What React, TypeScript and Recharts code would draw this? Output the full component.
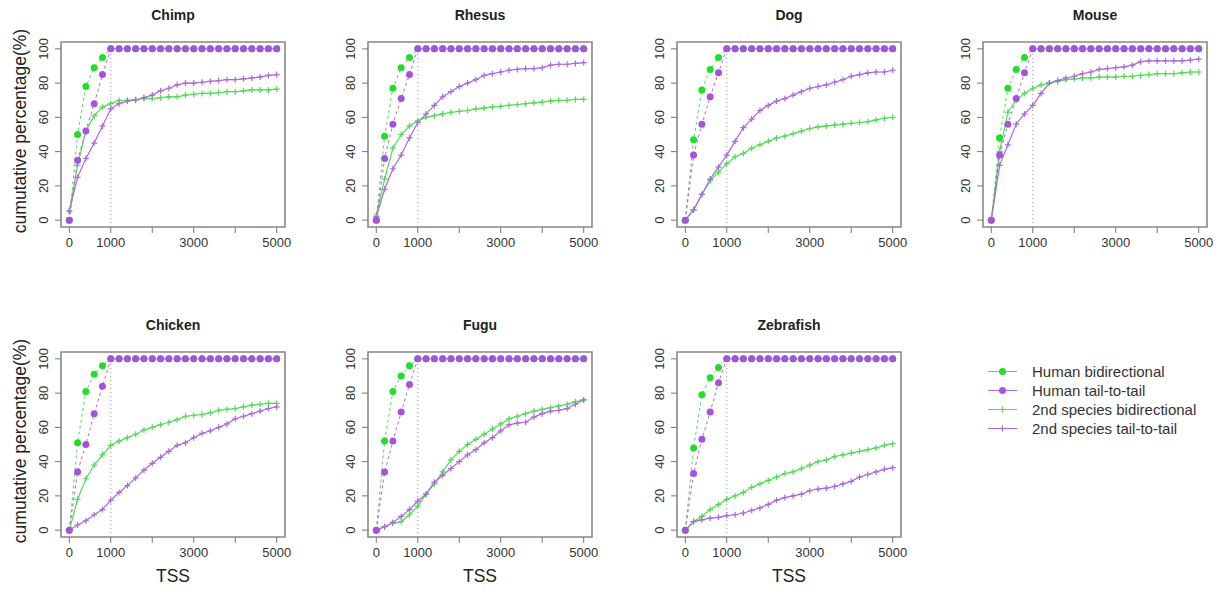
import React from "react";
import { LineChart, Line, XAxis, YAxis, ReferenceLine, ReferenceArea } from "recharts";

// TSS distance bins (every 200)
const xs = [0, 200, 400, 600, 800, 1000, 1200, 1400, 1600, 1800, 2000, 2200, 2400, 2600, 2800, 3000, 3200, 3400, 3600, 3800, 4000, 4200, 4400, 4600, 4800, 5000];
const xTicks = [0, 1000, 2000, 3000, 4000, 5000];
const xTickLabels = ["0", "1000", "", "3000", "", "5000"];
const yTicks = [0, 20, 40, 60, 80, 100];

const chimpHumanBi = [0, 50, 78, 89, 95, 100, 100, 100, 100, 100, 100, 100, 100, 100, 100, 100, 100, 100, 100, 100, 100, 100, 100, 100, 100, 100];
const chimpHumanTail = [0, 35, 52, 68, 85, 100, 100, 100, 100, 100, 100, 100, 100, 100, 100, 100, 100, 100, 100, 100, 100, 100, 100, 100, 100, 100];
const chimpBi = [5, 32, 52, 61, 66, 68, 70, 70, 70.5, 71, 71, 71.5, 72, 72, 73, 73.5, 74, 74, 74.5, 75, 75, 75.5, 76, 76, 76, 76.5];
const chimpTail = [5.5, 25, 36, 45, 55, 65, 68, 69.5, 70, 71.5, 73, 75.5, 77, 79, 80, 80, 80.5, 81, 81.5, 82, 82, 82.5, 83, 83.5, 84.5, 85];

const rhesusHumanBi = [0, 49, 77, 89, 95, 100, 100, 100, 100, 100, 100, 100, 100, 100, 100, 100, 100, 100, 100, 100, 100, 100, 100, 100, 100, 100];
const rhesusHumanTail = [0, 36, 56, 71, 85, 100, 100, 100, 100, 100, 100, 100, 100, 100, 100, 100, 100, 100, 100, 100, 100, 100, 100, 100, 100, 100];
const rhesusBi = [3, 24, 42, 50, 55, 58, 60, 61, 62, 63, 63.5, 64, 65, 65.5, 66, 66.5, 67, 67.5, 68, 68.5, 69, 69.5, 70, 70, 70.5, 70.5];
const rhesusTail = [2, 18, 30, 38, 48, 57, 62, 67, 72, 75, 78, 80, 82, 84.5, 85.5, 86.5, 87.5, 88, 88.5, 88.5, 89, 90.5, 91, 91, 91.5, 92];

const dogHumanBi = [0, 47, 76, 88, 95, 100, 100, 100, 100, 100, 100, 100, 100, 100, 100, 100, 100, 100, 100, 100, 100, 100, 100, 100, 100, 100];
const dogHumanTail = [0, 38, 56, 72, 86, 100, 100, 100, 100, 100, 100, 100, 100, 100, 100, 100, 100, 100, 100, 100, 100, 100, 100, 100, 100, 100];
const dogBi = [0, 6, 15, 23, 28, 33, 37, 39, 42, 44, 46, 48, 49, 50.5, 52, 53.5, 54.5, 55, 55.5, 56, 56.5, 57, 57.5, 58.5, 59.5, 60];
const dogTail = [0, 6, 15, 24, 31, 38, 46, 54, 59, 64, 67, 69.5, 71, 73, 75, 77, 78, 79, 80.5, 82, 84, 85, 86, 86.5, 86.5, 87.5];

const mouseHumanBi = [0, 48, 77, 88, 95, 100, 100, 100, 100, 100, 100, 100, 100, 100, 100, 100, 100, 100, 100, 100, 100, 100, 100, 100, 100, 100];
const mouseHumanTail = [0, 38, 56, 71, 86, 100, 100, 100, 100, 100, 100, 100, 100, 100, 100, 100, 100, 100, 100, 100, 100, 100, 100, 100, 100, 100];
const mouseBi = [0, 40, 63, 70, 74, 77, 79, 80, 81, 82, 82.5, 83, 83, 83.5, 83.5, 83.5, 84, 84, 84.5, 85, 85.5, 85.5, 85.5, 86, 86.5, 86.5];
const mouseTail = [0, 32, 44, 56, 62, 67, 74, 80, 81.5, 83, 84, 85.5, 86.5, 88, 88.5, 89, 89.5, 90.5, 92.5, 93, 93, 93, 93, 93, 93.5, 94];

const chickenHumanBi = [0, 51, 81, 91, 96, 100, 100, 100, 100, 100, 100, 100, 100, 100, 100, 100, 100, 100, 100, 100, 100, 100, 100, 100, 100, 100];
const chickenHumanTail = [0, 34, 50, 68, 84, 100, 100, 100, 100, 100, 100, 100, 100, 100, 100, 100, 100, 100, 100, 100, 100, 100, 100, 100, 100, 100];
const chickenBi = [0, 18, 30, 38, 44, 49.5, 52, 54, 56, 58.5, 60, 61.5, 63, 64.5, 66.5, 67, 67.5, 68.5, 70, 70.5, 71, 72, 73, 73.5, 74, 74];
const chickenTail = [0, 3, 5.5, 9, 12, 17.5, 22, 26, 30.5, 35, 39, 42.5, 46, 49.5, 51, 54, 56.5, 58, 60, 62, 65, 66.5, 68, 69.5, 71, 72];

const fuguHumanBi = [0, 52, 81, 90, 96, 100, 100, 100, 100, 100, 100, 100, 100, 100, 100, 100, 100, 100, 100, 100, 100, 100, 100, 100, 100, 100];
const fuguHumanTail = [0, 34, 52, 69, 85, 100, 100, 100, 100, 100, 100, 100, 100, 100, 100, 100, 100, 100, 100, 100, 100, 100, 100, 100, 100, 100];
const fuguBi = [0, 2, 4, 5, 9, 14, 21, 27, 34, 41, 46, 50, 53, 56, 59, 62, 65, 66.5, 68, 69.5, 70.5, 71.5, 72.5, 73.5, 75, 76];
const fuguTail = [0, 2, 4.5, 8, 12, 17, 21, 28, 32, 36, 40, 44, 47, 51, 54, 58, 61.5, 62.5, 63, 66, 68, 69.5, 70, 71, 73.5, 76];

const zebrafishHumanBi = [0, 48, 79, 89, 95, 100, 100, 100, 100, 100, 100, 100, 100, 100, 100, 100, 100, 100, 100, 100, 100, 100, 100, 100, 100, 100];
const zebrafishHumanTail = [0, 33, 53, 69, 86, 100, 100, 100, 100, 100, 100, 100, 100, 100, 100, 100, 100, 100, 100, 100, 100, 100, 100, 100, 100, 100];
const zebrafishBi = [0, 5, 8, 12, 15, 18, 20, 22, 25, 27, 29, 31, 33, 34, 36, 38, 40, 41, 43, 44, 45, 46, 47, 48, 49.5, 50.5];
const zebrafishTail = [0, 5, 6, 7, 7.5, 8.5, 9, 10, 11.5, 13, 15, 17.5, 19, 20, 21, 23, 24, 24.5, 25.5, 27, 28.5, 31, 32.5, 34, 35.5, 36.5];

const seriesNames = ["Human bidirectional", "Human tail-to-tail", "2nd species bidirectional", "2nd species tail-to-tail"];

const GREEN = "#22dd2a";
const PURPLE = "#a553de";
const GREEN_LINE = "#4fdc55";
const PURPLE_LINE = "#ab68dc";
const FONT = "'Liberation Sans', Arial, Helvetica, sans-serif";

const panels = [
  { name: "Chimp", hb: chimpHumanBi, ht: chimpHumanTail, sb: chimpBi, st: chimpTail, col: 0, row: 0 },
  { name: "Rhesus", hb: rhesusHumanBi, ht: rhesusHumanTail, sb: rhesusBi, st: rhesusTail, col: 1, row: 0 },
  { name: "Dog", hb: dogHumanBi, ht: dogHumanTail, sb: dogBi, st: dogTail, col: 2, row: 0 },
  { name: "Mouse", hb: mouseHumanBi, ht: mouseHumanTail, sb: mouseBi, st: mouseTail, col: 3, row: 0 },
  { name: "Chicken", hb: chickenHumanBi, ht: chickenHumanTail, sb: chickenBi, st: chickenTail, col: 0, row: 1 },
  { name: "Fugu", hb: fuguHumanBi, ht: fuguHumanTail, sb: fuguBi, st: fuguTail, col: 1, row: 1 },
  { name: "Zebrafish", hb: zebrafishHumanBi, ht: zebrafishHumanTail, sb: zebrafishBi, st: zebrafishTail, col: 2, row: 1 },
];

const colLeft = [0, 307, 616, 922];
const rowTop = [0, 310];

const crossDot = (color: string) => (props: any) => {
  const { cx, cy, index } = props;
  if (cx == null || cy == null) return <g key={`n-${index}`} />;
  return (
    <path
      key={`c-${index}`}
      d={`M${cx - 3},${cy}h6M${cx},${cy - 3}v6`}
      stroke={color}
      strokeWidth={1.2}
      fill="none"
    />
  );
};

const YTick = (props: any) => {
  const { x, y, payload } = props;
  return (
    <text
      transform={`translate(${x - 10},${y}) rotate(-90)`}
      textAnchor="middle"
      dy="0.35em"
      fontSize={13}
      fill="#333"
      fontFamily={FONT}
    >
      {payload.value}
    </text>
  );
};

function Panel({ p }: { p: (typeof panels)[number] }) {
  const data = xs.map((x, i) => ({ x, hb: p.hb[i], ht: p.ht[i], sb: p.sb[i], st: p.st[i] }));
  return (
    <div style={{ position: "absolute", left: colLeft[p.col], top: rowTop[p.row], width: 300, height: 300 }}>
      <div
        style={{
          position: "absolute",
          left: 61,
          width: 224,
          top: 6,
          lineHeight: "18px",
          textAlign: "center",
          fontSize: 14,
          fontWeight: "bold",
          color: "#222",
          fontFamily: FONT,
        }}
      >
        {p.name}
      </div>
      {p.col === 0 && (
        <div
          style={{
            position: "absolute",
            left: 20,
            top: 131,
            transform: "translate(-50%, -50%) rotate(-90deg)",
            whiteSpace: "nowrap",
            fontSize: 17.5,
            color: "#222",
            fontFamily: FONT,
          }}
        >
          cumutative percentage(%)
        </div>
      )}
      {p.row === 1 && (
        <div
          style={{
            position: "absolute",
            left: 61,
            width: 224,
            top: 255,
            lineHeight: "22px",
            textAlign: "center",
            fontSize: 17.5,
            color: "#222",
            fontFamily: FONT,
          }}
        >
          TSS
        </div>
      )}
      <LineChart width={300} height={300} data={data} margin={{ top: 42, right: 15, bottom: 43, left: 31 }}>
        <XAxis
          type="number"
          dataKey="x"
          domain={[-200, 5200]}
          ticks={xTicks}
          interval={0}
          tickFormatter={(v: number) => xTickLabels[xTicks.indexOf(v)] ?? ""}
          axisLine={false}
          tickLine={{ stroke: "#777" }}
          tickSize={6}
          tickMargin={5}
          height={30}
          tick={{ fontSize: 13, fill: "#333", fontFamily: FONT }}
        />
        <YAxis
          type="number"
          domain={[-4, 104]}
          ticks={yTicks}
          interval={0}
          axisLine={false}
          tickLine={{ stroke: "#777" }}
          tickSize={6}
          width={30}
          tick={<YTick />}
        />
        <ReferenceArea x1={-200} x2={5200} y1={-4} y2={104} fill="none" stroke="#888" strokeWidth={1.6} ifOverflow="visible" />
        <ReferenceLine x={1000} stroke="#999" strokeDasharray="1 3" ifOverflow="visible" />
        <Line
          dataKey="sb"
          stroke={GREEN_LINE}
          strokeWidth={1.2}
          dot={crossDot(GREEN_LINE)}
          isAnimationActive={false}
          type="linear"
        />
        <Line
          dataKey="st"
          stroke={PURPLE_LINE}
          strokeWidth={1.2}
          dot={crossDot(PURPLE_LINE)}
          isAnimationActive={false}
          type="linear"
        />
        <Line
          dataKey="hb"
          stroke={GREEN_LINE}
          strokeWidth={1}
          strokeDasharray="3 3"
          dot={{ r: 3.5, fill: GREEN, stroke: GREEN, strokeWidth: 0 }}
          isAnimationActive={false}
          type="linear"
        />
        <Line
          dataKey="ht"
          stroke={PURPLE_LINE}
          strokeWidth={1}
          strokeDasharray="3 3"
          dot={{ r: 3.5, fill: PURPLE, stroke: PURPLE, strokeWidth: 0 }}
          isAnimationActive={false}
          type="linear"
        />
      </LineChart>
    </div>
  );
}

function Legend() {
  const markers = [
    { color: GREEN, line: GREEN_LINE, kind: "dot" },
    { color: PURPLE, line: PURPLE_LINE, kind: "dot" },
    { color: GREEN_LINE, line: GREEN_LINE, kind: "cross" },
    { color: PURPLE_LINE, line: PURPLE_LINE, kind: "cross" },
  ];
  return (
    <div style={{ position: "absolute", left: 985, top: 362 }}>
      {seriesNames.map((s, i) => (
        <div key={s} style={{ display: "flex", alignItems: "center", height: 19 }}>
          <svg width={36} height={19}>
            <line x1={3} x2={32} y1={9.5} y2={9.5} stroke={markers[i].line} strokeWidth={1} />
            {markers[i].kind === "dot" ? (
              <circle cx={17.5} cy={9.5} r={3.5} fill={markers[i].color} />
            ) : (
              <path d="M14.5,9.5h6M17.5,6.5v6" stroke={markers[i].color} strokeWidth={1.2} />
            )}
          </svg>
          <span style={{ marginLeft: 11, fontSize: 15, color: "#333", fontFamily: FONT, whiteSpace: "nowrap" }}>{s}</span>
        </div>
      ))}
    </div>
  );
}

export default function App() {
  return (
    <div style={{ position: "absolute", left: 0, top: 0, width: 1225, height: 607, background: "#fff", overflow: "hidden" }}>
      {panels.map((p) => (
        <Panel key={p.name} p={p} />
      ))}
      <Legend />
    </div>
  );
}
